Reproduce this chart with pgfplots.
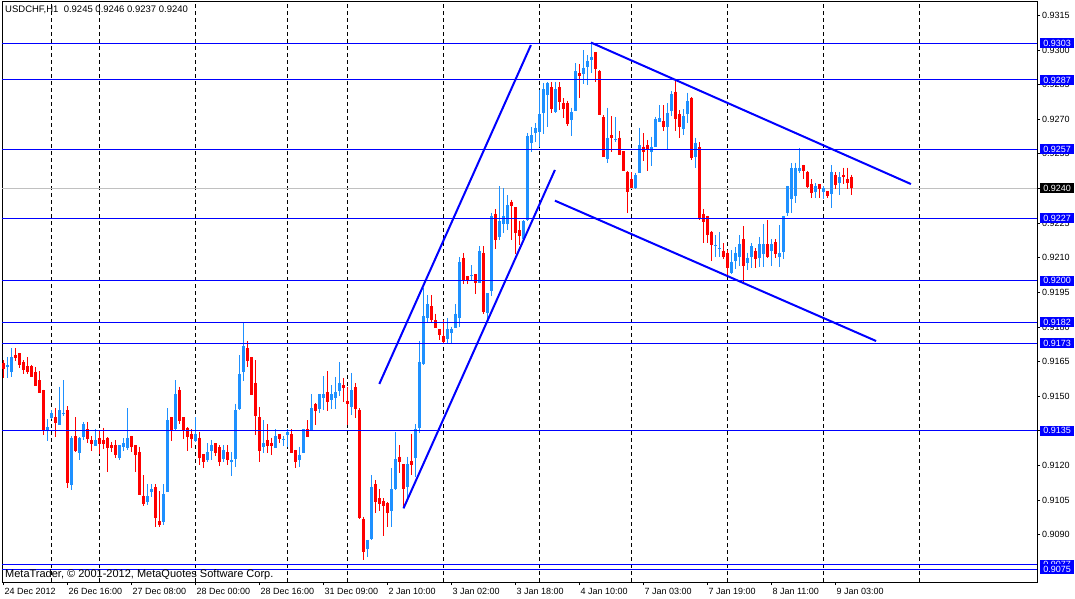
\documentclass[border=0pt]{standalone}
\usepackage{fontspec}
\setmainfont{Liberation Sans}
\usepackage{pgfplots}
\usepackage{pgfplotstable}
\pgfplotsset{compat=1.18}
\definecolor{cblue}{RGB}{30,144,255}
\definecolor{cred}{RGB}{255,0,0}
\definecolor{lblue}{RGB}{0,0,255}
\definecolor{silver}{RGB}{192,192,192}
\newcommand\fs{\fontsize{9}{10}\selectfont}

\pgfplotstableread{
i o h l c
1 0.91627 0.91670 0.91577 0.91633
2 0.91606 0.91707 0.91584 0.91670
11 0.91353 0.91399 0.91307 0.91366
12 0.91406 0.91439 0.91403 0.91425
14 0.91374 0.91541 0.91373 0.91439
15 0.91422 0.91569 0.91416 0.91428
17 0.91115 0.91327 0.91093 0.91320
19 0.91255 0.91321 0.91223 0.91320
20 0.91324 0.91389 0.91310 0.91379
23 0.91285 0.91359 0.91283 0.91310
29 0.91233 0.91289 0.91223 0.91288
30 0.91278 0.91317 0.91263 0.91295
31 0.91276 0.91448 0.91266 0.91320
36 0.91042 0.91119 0.91028 0.91067
37 0.91086 0.91119 0.91064 0.91097
40 0.90956 0.91119 0.90941 0.91076
41 0.91086 0.91447 0.91084 0.91396
43 0.91356 0.91569 0.91354 0.91509
48 0.91307 0.91408 0.91302 0.91336
51 0.91223 0.91295 0.91216 0.91258
52 0.91263 0.91310 0.91223 0.91288
55 0.91226 0.91288 0.91216 0.91266
57 0.91217 0.91258 0.91155 0.91222
58 0.91226 0.91468 0.91194 0.91439
59 0.91445 0.91678 0.91442 0.91598
60 0.91606 0.91815 0.91565 0.91717
65 0.91278 0.91396 0.91256 0.91295
68 0.91276 0.91357 0.91275 0.91327
70 0.91308 0.91327 0.91285 0.91313
71 0.91331 0.91357 0.91278 0.91346
74 0.91223 0.91281 0.91194 0.91247
75 0.91255 0.91359 0.91253 0.91357
77 0.91349 0.91509 0.91347 0.91447
79 0.91445 0.91510 0.91425 0.91509
80 0.91490 0.91587 0.91439 0.91509
82 0.91483 0.91548 0.91444 0.91509
83 0.91490 0.91584 0.91444 0.91519
84 0.91523 0.91647 0.91500 0.91558
87 0.91454 0.91601 0.91418 0.91526
91 0.90836 0.90878 0.90804 0.90877
92 0.90881 0.91158 0.90879 0.91108
97 0.91004 0.91187 0.90934 0.91097
98 0.91100 0.91346 0.91093 0.91226
101 0.91105 0.91238 0.91057 0.91206
103 0.91233 0.91379 0.91151 0.91356
104 0.91360 0.91739 0.91339 0.91649
105 0.91638 0.91967 0.91636 0.91847
106 0.91837 0.91938 0.91815 0.91899
111 0.91746 0.91840 0.91726 0.91791
112 0.91775 0.91801 0.91726 0.91791
113 0.91796 0.91899 0.91795 0.91858
114 0.91837 0.92101 0.91801 0.92082
117 0.92019 0.92068 0.92003 0.92024
119 0.91991 0.92150 0.91990 0.92130
121 0.91861 0.91946 0.91832 0.91945
122 0.91957 0.92295 0.91934 0.92280
124 0.92188 0.92410 0.92176 0.92260
125 0.92246 0.92400 0.92205 0.92280
126 0.92248 0.92371 0.92220 0.92328
130 0.92179 0.92263 0.92176 0.92258
131 0.92263 0.92641 0.92258 0.92627
132 0.92598 0.92667 0.92559 0.92631
133 0.92638 0.92682 0.92602 0.92663
134 0.92646 0.92826 0.92581 0.92722
135 0.92728 0.92855 0.92636 0.92830
136 0.92804 0.92862 0.92667 0.92855
138 0.92732 0.92859 0.92725 0.92830
142 0.92696 0.92750 0.92627 0.92732
143 0.92735 0.92942 0.92734 0.92908
145 0.92897 0.92999 0.92851 0.92923
146 0.92927 0.92978 0.92848 0.92952
147 0.92956 0.93033 0.92898 0.92971
151 0.92527 0.92750 0.92508 0.92620
153 0.92608 0.92708 0.92599 0.92613
158 0.92400 0.92465 0.92399 0.92458
159 0.92468 0.92663 0.92466 0.92588
162 0.92559 0.92624 0.92497 0.92581
163 0.92581 0.92711 0.92580 0.92700
164 0.92689 0.92761 0.92686 0.92703
166 0.92667 0.92768 0.92571 0.92728
167 0.92735 0.92822 0.92713 0.92809
170 0.92656 0.92742 0.92631 0.92713
171 0.92721 0.92815 0.92685 0.92778
173 0.92536 0.92620 0.92487 0.92595
178 0.92149 0.92198 0.92104 0.92154
179 0.92136 0.92210 0.92104 0.92141
182 0.92035 0.92133 0.92029 0.92083
183 0.92086 0.92145 0.92049 0.92119
184 0.92101 0.92198 0.92064 0.92159
186 0.92078 0.92122 0.92046 0.92100
187 0.92101 0.92162 0.92057 0.92150
189 0.92097 0.92188 0.92061 0.92158
190 0.92116 0.92244 0.92058 0.92159
192 0.92130 0.92179 0.92065 0.92159
194 0.92101 0.92241 0.92058 0.92119
195 0.92126 0.92282 0.92093 0.92280
196 0.92295 0.92412 0.92280 0.92410
197 0.92353 0.92509 0.92295 0.92487
198 0.92369 0.92512 0.92338 0.92490
199 0.92477 0.92574 0.92465 0.92487
203 0.92386 0.92422 0.92357 0.92410
205 0.92386 0.92410 0.92354 0.92400
207 0.92376 0.92501 0.92317 0.92470
209 0.92425 0.92470 0.92371 0.92448
}\bluedata

\pgfplotstableread{
i o h l c
0 0.91642 0.91656 0.91577 0.91616
3 0.91678 0.91707 0.91653 0.91666
4 0.91685 0.91688 0.91624 0.91634
5 0.91649 0.91656 0.91595 0.91613
6 0.91630 0.91668 0.91595 0.91606
7 0.91630 0.91637 0.91582 0.91584
8 0.91606 0.91627 0.91543 0.91545
9 0.91569 0.91608 0.91513 0.91515
10 0.91526 0.91528 0.91331 0.91349
13 0.91408 0.91447 0.91324 0.91382
16 0.91439 0.91457 0.91103 0.91125
18 0.91327 0.91408 0.91260 0.91262
21 0.91357 0.91388 0.91295 0.91314
22 0.91310 0.91327 0.91263 0.91294
24 0.91320 0.91353 0.91249 0.91292
25 0.91310 0.91364 0.91273 0.91291
26 0.91320 0.91321 0.91172 0.91276
27 0.91288 0.91302 0.91259 0.91276
28 0.91288 0.91310 0.91233 0.91245
32 0.91327 0.91328 0.91259 0.91278
33 0.91288 0.91289 0.91172 0.91245
34 0.91259 0.91281 0.91070 0.91071
35 0.91068 0.91158 0.91024 0.91035
38 0.91107 0.91119 0.90934 0.90973
39 0.90959 0.91089 0.90934 0.90941
42 0.91408 0.91409 0.91307 0.91353
44 0.91526 0.91541 0.91379 0.91393
45 0.91408 0.91409 0.91315 0.91349
46 0.91364 0.91366 0.91263 0.91324
47 0.91336 0.91357 0.91276 0.91314
49 0.91320 0.91346 0.91203 0.91233
50 0.91249 0.91250 0.91187 0.91216
53 0.91295 0.91296 0.91242 0.91255
54 0.91278 0.91288 0.91198 0.91216
56 0.91258 0.91288 0.91201 0.91223
61 0.91707 0.91738 0.91627 0.91653
62 0.91668 0.91669 0.91503 0.91504
63 0.91558 0.91656 0.91331 0.91413
64 0.91408 0.91454 0.91216 0.91263
66 0.91310 0.91379 0.91256 0.91286
67 0.91298 0.91320 0.91245 0.91283
69 0.91336 0.91337 0.91295 0.91315
72 0.91334 0.91357 0.91253 0.91255
73 0.91266 0.91268 0.91187 0.91216
76 0.91357 0.91396 0.91322 0.91324
78 0.91468 0.91471 0.91374 0.91437
81 0.91516 0.91608 0.91437 0.91476
85 0.91548 0.91577 0.91476 0.91536
86 0.91480 0.91541 0.91374 0.91465
88 0.91538 0.91558 0.91406 0.91444
89 0.91440 0.91447 0.90969 0.90973
90 0.90968 0.90978 0.90790 0.90826
93 0.91119 0.91136 0.90992 0.91043
94 0.91057 0.91096 0.91004 0.91032
95 0.91045 0.91057 0.90894 0.91024
96 0.91038 0.91040 0.90934 0.90995
99 0.91238 0.91288 0.91168 0.91216
100 0.91206 0.91207 0.91014 0.91100
102 0.91219 0.91336 0.91158 0.91201
107 0.91890 0.91938 0.91815 0.91832
108 0.91830 0.91858 0.91795 0.91796
109 0.91791 0.91792 0.91743 0.91765
110 0.91760 0.91830 0.91726 0.91736
115 0.92100 0.92121 0.91988 0.92003
116 0.92020 0.92022 0.91985 0.92003
118 0.92029 0.92030 0.91942 0.91991
120 0.92121 0.92150 0.91856 0.91866
123 0.92289 0.92309 0.92137 0.92176
127 0.92342 0.92352 0.92176 0.92323
128 0.92318 0.92319 0.92118 0.92208
129 0.92219 0.92260 0.92154 0.92193
137 0.92838 0.92859 0.92725 0.92744
139 0.92838 0.92859 0.92739 0.92776
140 0.92771 0.92790 0.92703 0.92744
141 0.92768 0.92780 0.92670 0.92679
144 0.92901 0.92937 0.92790 0.92888
148 0.92989 0.92992 0.92859 0.92917
149 0.92910 0.92911 0.92716 0.92718
150 0.92708 0.92718 0.92536 0.92537
152 0.92631 0.92713 0.92556 0.92617
154 0.92620 0.92650 0.92543 0.92545
155 0.92562 0.92563 0.92475 0.92477
156 0.92472 0.92474 0.92295 0.92384
157 0.92441 0.92472 0.92401 0.92403
160 0.92581 0.92638 0.92520 0.92559
161 0.92588 0.92610 0.92477 0.92569
165 0.92693 0.92761 0.92649 0.92667
168 0.92819 0.92869 0.92649 0.92699
169 0.92722 0.92739 0.92617 0.92667
172 0.92793 0.92794 0.92523 0.92533
174 0.92578 0.92600 0.92263 0.92266
175 0.92289 0.92311 0.92165 0.92256
176 0.92280 0.92282 0.92165 0.92198
177 0.92213 0.92214 0.92087 0.92155
180 0.92130 0.92162 0.92093 0.92101
181 0.92119 0.92133 0.92021 0.92057
185 0.92181 0.92237 0.91993 0.92064
188 0.92130 0.92140 0.92057 0.92094
191 0.92159 0.92263 0.92100 0.92101
193 0.92166 0.92179 0.92097 0.92116
200 0.92501 0.92503 0.92439 0.92477
201 0.92473 0.92474 0.92400 0.92408
202 0.92419 0.92439 0.92357 0.92382
204 0.92419 0.92420 0.92357 0.92396
206 0.92389 0.92390 0.92357 0.92369
208 0.92458 0.92470 0.92396 0.92415
210 0.92458 0.92490 0.92419 0.92448
211 0.92439 0.92490 0.92396 0.92425
212 0.92450 0.92460 0.92370 0.92400
}\reddata

\begin{document}
\begin{tikzpicture}
\useasboundingbox (0,0) rectangle (1075pt,599pt);
\begin{axis}[
  at={(2pt,17pt)}, anchor=south west,
  scale only axis, width=1035pt, height=581pt,
  xmin=-0.33, xmax=258.42, ymin=0.90695, ymax=0.93212,
  axis line style={black, line width=0.8pt},
  xtick={0,16,...,208},
  xticklabels={24 Dec 2012,26 Dec 16:00,27 Dec 08:00,28 Dec 00:00,28 Dec 16:00,31 Dec 09:00,2 Jan 10:00,3 Jan 02:00,3 Jan 18:00,4 Jan 10:00,7 Jan 03:00,7 Jan 19:00,8 Jan 11:00,9 Jan 03:00},
  xtick pos=bottom, ytick pos=right, yticklabel pos=right,
  tick align=outside, major tick length=3pt,
  tick style={black, line width=0.7pt},
  xticklabel style={anchor=north west, inner sep=0pt, xshift=1pt, yshift=-3pt, font=\fs},
  ytick={0.9090,0.9105,0.9120,0.9135,0.9150,0.9165,0.9180,0.9195,0.9210,0.9225,0.9240,0.9255,0.9270,0.9285,0.9300,0.9315},
  scaled y ticks=false,
  yticklabel style={anchor=west, inner sep=0pt, xshift=2pt, font=\fs,
    /pgf/number format/fixed, /pgf/number format/fixed zerofill,
    /pgf/number format/precision=4, /pgf/number format/assume math mode=true},
]
% day separators
\pgfplotsinvokeforeach{11.92,23.92,47.92,70.92,85.92,109.92,133.92,156.92,180.92,204.92,228.92}{
  \draw[black, line width=0.8pt, dash pattern=on 4pt off 3pt] (axis cs:#1,0.90695) -- (axis cs:#1,0.93212);
}
% bid line
\addplot[silver, line width=1pt, forget plot] coordinates {(-0.33,0.9240) (258.42,0.9240)};
% wicks
\addplot[draw=none, mark=none, forget plot, error bars/.cd, y dir=minus, y explicit, error mark=none,
  error bar style={draw=cblue, line width=1pt}]
  table[x=i, y=h, y error minus expr=\thisrow{h}-\thisrow{l}] {\bluedata};
\addplot[draw=none, mark=none, forget plot, error bars/.cd, y dir=minus, y explicit, error mark=none,
  error bar style={draw=cred, line width=1pt}]
  table[x=i, y=h, y error minus expr=\thisrow{h}-\thisrow{l}] {\reddata};
% bodies
\addplot[draw=none, mark=none, forget plot, error bars/.cd, y dir=minus, y explicit, error mark=none,
  error bar style={draw=cblue, line width=3pt}]
  table[x=i, y=c, y error minus expr=\thisrow{c}-\thisrow{o}] {\bluedata};
\addplot[draw=none, mark=none, forget plot, error bars/.cd, y dir=minus, y explicit, error mark=none,
  error bar style={draw=cred, line width=3pt}]
  table[x=i, y=o, y error minus expr=\thisrow{o}-\thisrow{c}] {\reddata};
% horizontal levels
\pgfplotsinvokeforeach{0.9303,0.9287,0.9257,0.9227,0.9200,0.9182,0.9173,0.9135,0.9077,0.9075}{
  \addplot[lblue, line width=1pt, forget plot] coordinates {(-0.33,#1) (258.42,#1)};
}
% trend lines
\addplot[lblue, line width=2pt, forget plot] coordinates {(94.0,0.91553) (131.9,0.93021)};
\addplot[lblue, line width=2pt, forget plot] coordinates {(100.04,0.91014) (137.9,0.92480)};
\addplot[lblue, line width=2pt, forget plot] coordinates {(146.9,0.93032) (226.9,0.92419)};
\addplot[lblue, line width=2pt, forget plot] coordinates {(137.9,0.92347) (218.2,0.91739)};
% label anchors
\coordinate (L9303) at (axis cs:258.42,0.9303);
\coordinate (L9287) at (axis cs:258.42,0.9287);
\coordinate (L9257) at (axis cs:258.42,0.9257);
\coordinate (L9240) at (axis cs:258.42,0.9240);
\coordinate (L9227) at (axis cs:258.42,0.9227);
\coordinate (L9200) at (axis cs:258.42,0.9200);
\coordinate (L9182) at (axis cs:258.42,0.9182);
\coordinate (L9173) at (axis cs:258.42,0.9173);
\coordinate (L9135) at (axis cs:258.42,0.9135);
\coordinate (L9077) at (axis cs:258.42,0.9077);
\coordinate (L9075) at (axis cs:258.42,0.9075);
\end{axis}
\tikzset{pbox/.style={fill=lblue, text=white, anchor=west, inner sep=0pt, minimum height=10pt, minimum width=34pt, font=\fs}}
\foreach \v in {9303,9287,9257,9227,9200,9182,9173,9135,9077,9075}{
  \node[pbox] at ([xshift=3pt]L\v) {0.\v};
}
\node[pbox, fill=black] at ([xshift=3pt]L9240) {0.9240};
\node[anchor=west, inner sep=0pt, font=\fontsize{9.5}{11}\selectfont] at (5pt,589pt) {USDCHF,H1\ \ 0.9245 0.9246 0.9237 0.9240};
\node[anchor=west, inner sep=0pt, font=\fontsize{11}{12}\selectfont] at (5pt,24pt) {MetaTrader, © 2001-2012, MetaQuotes Software Corp.};
\end{tikzpicture}
\end{document}
